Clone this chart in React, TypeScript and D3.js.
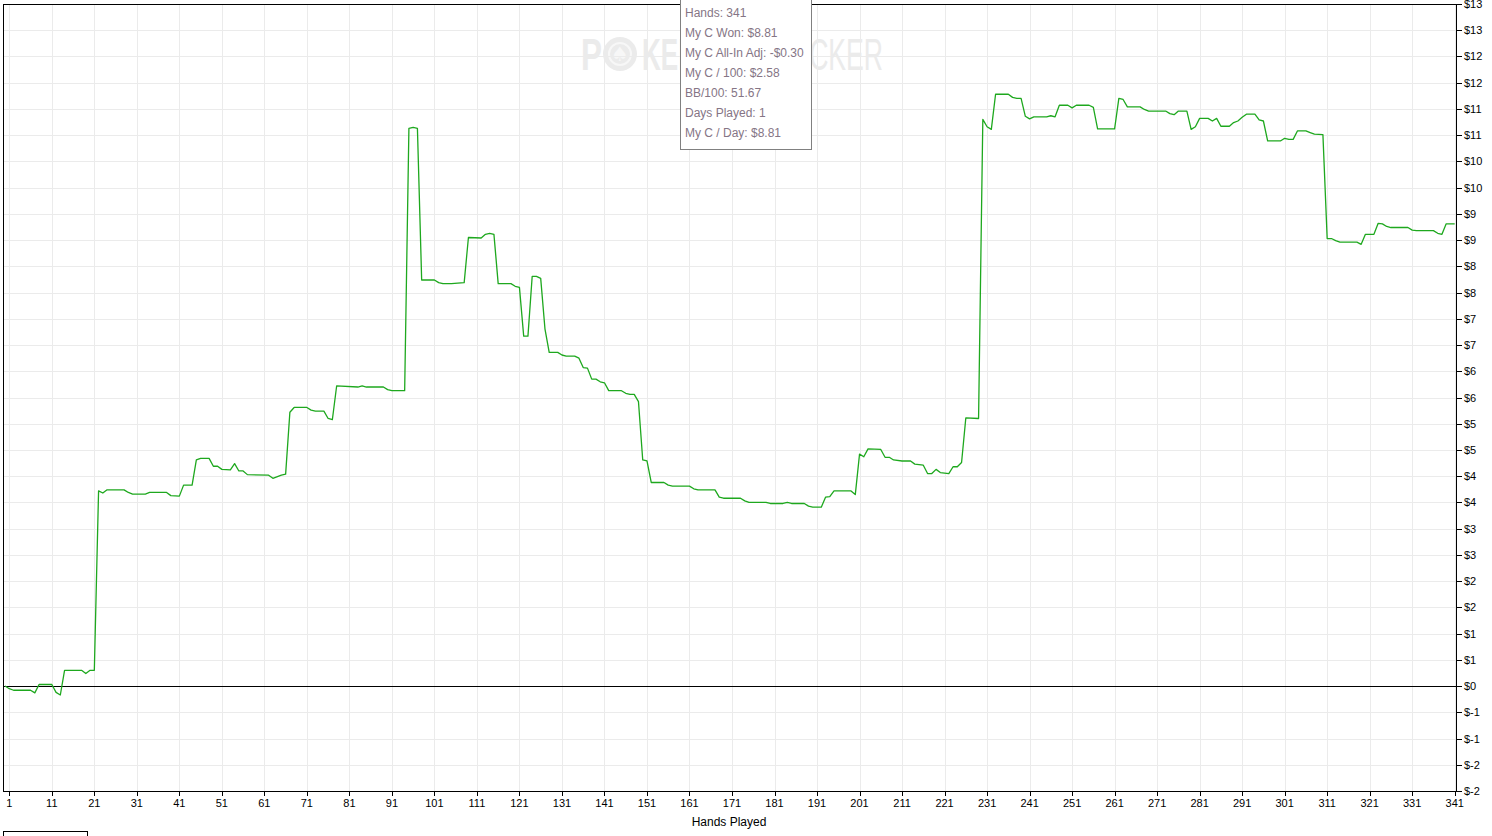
import React from "react";
import * as d3 from "d3";

// Breakpoints of the cumulative winnings line (hand number, $ won)
const hands: number[] = [
  0, 1, 2, 6, 7, 8, 11, 12, 13, 14, 18, 19, 20, 21, 22, 23, 24, 28, 29, 30, 33, 34, 38, 39, 41, 42, 44, 45, 46, 48,
  49, 50, 51, 53, 54, 55, 56, 57, 62, 63, 65, 66, 67, 68, 71, 72, 73, 75, 76, 77, 78, 83, 84, 85, 89, 90, 91, 94, 95, 96,
  97, 98, 101, 102, 103, 105, 108, 109, 112, 113, 114, 115, 116, 119, 120, 121, 122, 123, 124, 125, 126, 127, 128, 130, 131, 132, 134, 135, 136, 137,
  138, 139, 140, 141, 142, 145, 146, 147, 148, 149, 150, 151, 152, 155, 156, 157, 161, 162, 163, 167, 168, 169, 173, 174, 175, 179, 180, 183, 184, 185,
  188, 189, 190, 192, 193, 194, 195, 196, 199, 200, 201, 202, 203, 206, 207, 208, 209, 211, 213, 214, 216, 217, 218, 219, 220, 222, 223, 224, 225, 226,
  229, 230, 231, 232, 233, 236, 237, 238, 239, 240, 241, 242, 245, 246, 247, 248, 250, 251, 252, 255, 256, 257, 261, 262, 263, 264, 267, 268, 269, 273,
  274, 275, 276, 278, 279, 280, 281, 283, 284, 285, 286, 288, 289, 290, 291, 292, 294, 295, 296, 297, 300, 301, 302, 303, 304, 306, 307, 308, 310, 311,
  312, 313, 314, 318, 319, 320, 322, 323, 324, 325, 326, 330, 331, 332, 336, 337, 338, 339, 341,
];
const won: number[] = [
  0, -0.05, -0.08, -0.08, -0.13, 0.03, 0.03, -0.12, -0.17, 0.3, 0.3, 0.24, 0.3, 0.3, 3.72, 3.68, 3.74, 3.74, 3.69, 3.66, 3.66, 3.69, 3.69, 3.63, 3.62, 3.83, 3.83, 4.31, 4.34, 4.34,
  4.19, 4.19, 4.13, 4.12, 4.24, 4.1, 4.1, 4.03, 4.02, 3.96, 4.02, 4.04, 5.22, 5.31, 5.31, 5.26, 5.24, 5.24, 5.1, 5.08, 5.72, 5.7, 5.72, 5.7, 5.7, 5.65, 5.63, 5.63, 10.63, 10.65,
  10.63, 7.74, 7.74, 7.69, 7.67, 7.67, 7.69, 8.55, 8.54, 8.61, 8.63, 8.61, 7.67, 7.67, 7.62, 7.6, 6.67, 6.67, 7.81, 7.81, 7.77, 6.81, 6.36, 6.36, 6.31, 6.29, 6.29, 6.25, 6.07, 6.06,
  5.85, 5.85, 5.8, 5.78, 5.63, 5.63, 5.58, 5.56, 5.56, 5.42, 4.31, 4.29, 3.88, 3.88, 3.83, 3.81, 3.81, 3.76, 3.74, 3.74, 3.6, 3.58, 3.58, 3.53, 3.5, 3.5, 3.48, 3.48, 3.5, 3.48,
  3.48, 3.43, 3.41, 3.41, 3.6, 3.61, 3.72, 3.72, 3.72, 3.65, 4.42, 4.37, 4.52, 4.51, 4.36, 4.36, 4.31, 4.29, 4.29, 4.23, 4.21, 4.05, 4.05, 4.13, 4.07, 4.05, 4.18, 4.18, 4.26, 5.11,
  5.1, 10.8, 10.66, 10.61, 11.28, 11.28, 11.22, 11.2, 11.2, 10.86, 10.81, 10.85, 10.85, 10.87, 10.85, 11.07, 11.07, 11.02, 11.07, 11.07, 11.03, 10.62, 10.62, 11.2, 11.18, 11.04, 11.04, 10.99, 10.96, 10.96,
  10.91, 10.89, 10.96, 10.96, 10.61, 10.66, 10.82, 10.82, 10.77, 10.82, 10.67, 10.67, 10.74, 10.77, 10.84, 10.9, 10.9, 10.79, 10.77, 10.39, 10.39, 10.44, 10.42, 10.42, 10.58, 10.58, 10.55, 10.52, 10.51, 8.53,
  8.53, 8.49, 8.46, 8.46, 8.42, 8.61, 8.61, 8.82, 8.81, 8.76, 8.74, 8.74, 8.69, 8.68, 8.68, 8.63, 8.61, 8.81, 8.81,
];

const xTicks: number[] = d3.range(1, 342, 10);
const yTicks: number[] = d3.range(-2, 13.01, 0.5);
const xAxisTitle = "Hands Played";
const tooltipLines: string[] = [
  "Hands: 341",
  "My C Won: $8.81",
  "My C All-In Adj: -$0.30",
  "My C / 100: $2.58",
  "BB/100: 51.67",
  "Days Played: 1",
  "My C / Day: $8.81",
];

const W = 1492;
const H = 836;
const LEFT = 3;
const RIGHT = 1456;
const TOP = 4;
const BOTTOM = 791;

const x = d3.scaleLinear().domain([1, 341]).range([9.3, 1454.7]);
const y = d3.scaleLinear().domain([-2, 13]).range([BOTTOM, TOP]);

function fmtY(v: number): string {
  const r = Math.sign(v) * Math.round(Math.abs(v));
  return r < 0 ? "$-" + Math.abs(r) : "$" + r;
}

export default function App() {
  const pts: [number, number][] = hands.map((h, i) => [h, won[i]]);
  const line = d3
    .line<[number, number]>()
    .x((d) => x(d[0]))
    .y((d) => y(d[1]));
  const axisFont = "'Liberation Sans', Arial, sans-serif";
  const px = (v: number) => Math.round(v) + 0.5;

  return (
    <svg
      width={W}
      height={H}
      style={{ position: "absolute", left: 0, top: 0, display: "block", background: "#fff" }}
    >
      <rect x={0} y={0} width={W} height={H} fill="#fff" />
      {/* watermark */}
      <g fill="#ebebeb" fontFamily={axisFont}>
        <text x={581} y={70} fontSize={44} fontWeight="bold" textLength={21} lengthAdjust="spacingAndGlyphs">P</text>
        <circle cx={620} cy={54} r={17} fill="#ebebeb" />
        <circle cx={620} cy={54} r={11} fill="none" stroke="#f7f7f7" strokeWidth={2} />
        <text x={620} y={61} fontSize={20} textAnchor="middle" fill="#f7f7f7" fontFamily="'DejaVu Sans', sans-serif">♠</text>
        <text x={642} y={70} fontSize={44} fontWeight="bold" textLength={55} lengthAdjust="spacingAndGlyphs">KER</text>
        <text x={756} y={70} fontSize={44} textLength={127} lengthAdjust="spacingAndGlyphs">TRACKER</text>
      </g>
      {/* grid */}
      <g stroke="#ebebeb" strokeWidth={1} shapeRendering="crispEdges">
        {xTicks.map((t) => (
          <line key={"gx" + t} x1={px(x(t))} x2={px(x(t))} y1={TOP} y2={BOTTOM} />
        ))}
        {yTicks.map((t) => (
          <line key={"gy" + t} x1={LEFT} x2={RIGHT} y1={px(y(t))} y2={px(y(t))} />
        ))}
      </g>
      {/* zero line */}
      <line x1={LEFT} x2={RIGHT} y1={px(y(0))} y2={px(y(0))} stroke="#000" shapeRendering="crispEdges" />
      {/* frame / axes */}
      <g stroke="#000" strokeWidth={1} shapeRendering="crispEdges">
        <line x1={LEFT + 0.5} x2={LEFT + 0.5} y1={TOP} y2={BOTTOM + 1} />
        <line x1={LEFT} x2={RIGHT + 1} y1={TOP + 0.5} y2={TOP + 0.5} />
        <line x1={LEFT} x2={RIGHT + 1} y1={BOTTOM + 0.5} y2={BOTTOM + 0.5} />
        <line x1={RIGHT + 0.5} x2={RIGHT + 0.5} y1={TOP} y2={BOTTOM + 1} />
        {xTicks.map((t) => (
          <line key={"tx" + t} x1={px(x(t))} x2={px(x(t))} y1={BOTTOM} y2={BOTTOM + 5} />
        ))}
        {yTicks.map((t) => (
          <line key={"ty" + t} x1={RIGHT} x2={RIGHT + 6} y1={px(y(t))} y2={px(y(t))} />
        ))}
      </g>
      {/* data line */}
      <path d={line(pts) || ""} fill="none" stroke="#1ea81e" strokeWidth={1.3} strokeLinejoin="round" />
      {/* tick labels */}
      <g fontFamily={axisFont} fontSize={11} fill="#000">
        {xTicks.map((t) => (
          <text key={"lx" + t} x={x(t)} y={807} textAnchor="middle">{t}</text>
        ))}
        {yTicks.map((t) => (
          <text key={"ly" + t} x={1464} y={y(t) + 4}>{fmtY(t)}</text>
        ))}
        <text x={729} y={826} textAnchor="middle" fontSize={12}>{xAxisTitle}</text>
      </g>
      {/* tooltip */}
      <rect x={680.5} y={-1.5} width={131} height={151} fill="#fff" stroke="#808080" strokeWidth={1} />
      <g fontFamily={axisFont} fontSize={12} fill="#857585">
        {tooltipLines.map((s, i) => (
          <text key={"tt" + i} x={685} y={17 + i * 20}>{s}</text>
        ))}
      </g>
      {/* partial legend box bottom-left */}
      <rect x={3.5} y={831.5} width={84} height={12} fill="#fff" stroke="#000" strokeWidth={1} />
    </svg>
  );
}
